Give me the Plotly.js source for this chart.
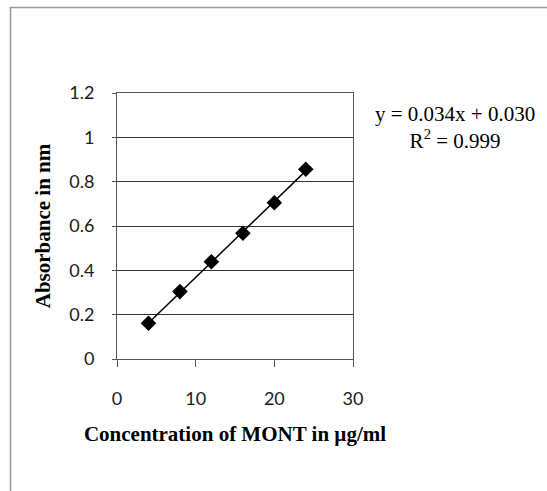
<!DOCTYPE html>
<html>
<head>
<meta charset="utf-8">
<script src="https://cdn.plot.ly/plotly-3.0.1.min.js"></script>
<style>html,body{margin:0;padding:0;background:#fff;}#chart{width:547px;height:491px;}</style>
</head>
<body>
<div id="chart"></div>
<script>
const concentration = [4, 8, 12, 16, 20, 24];
const absorbance = [0.161, 0.304, 0.439, 0.567, 0.705, 0.856];
const xTicks = [0, 10, 20, 30];
const yTicks = [0, 0.2, 0.4, 0.6, 0.8, 1, 1.2];
const yTickLabels = ['0', '0.2', '0.4', '0.6', '0.8', '1', '1.2'];
const equationText = 'y = 0.034x + 0.030<br>R<sup>2</sup> = 0.999';

// least-squares trendline from the data
const n = concentration.length;
const mx = concentration.reduce((a, b) => a + b, 0) / n;
const my = absorbance.reduce((a, b) => a + b, 0) / n;
let sxy = 0, sxx = 0;
for (let i = 0; i < n; i++) { sxy += (concentration[i] - mx) * (absorbance[i] - my); sxx += (concentration[i] - mx) ** 2; }
const slope = sxy / sxx, intercept = my - slope * mx;
const trendX = [concentration[0], concentration[n - 1]];
const trendY = trendX.map(x => slope * x + intercept);

const traces = [
  { x: trendX, y: trendY, mode: 'lines', line: { color: '#000', width: 1.5 }, hoverinfo: 'skip', showlegend: false },
  { x: concentration, y: absorbance, mode: 'markers', marker: { symbol: 'diamond', size: 12, color: '#000' }, showlegend: false }
];

const tickFont = { family: 'Lato, Open Sans, sans-serif', size: 18, color: '#1a1a1a' };
const titleFont = { family: 'Liberation Serif, Times New Roman, serif', size: 21, color: '#000', weight: 'bold' };

const layout = {
  width: 547, height: 491,
  margin: { l: 117, r: 194, t: 93, b: 132 },
  paper_bgcolor: '#fff', plot_bgcolor: '#fff',
  showlegend: false,
  xaxis: {
    range: [0, 30], tickvals: xTicks, ticktext: xTicks.map(String),
    showgrid: false, zeroline: false, automargin: false,
    showline: true, linecolor: '#555', linewidth: 1, mirror: true,
    ticks: 'outside', ticklen: 7, tickcolor: '#555', ticklabelstandoff: 16,
    tickfont: tickFont,
    title: { text: 'Concentration of MONT in µg/ml', font: titleFont, standoff: 18 }
  },
  yaxis: {
    range: [0, 1.2], tickvals: yTicks, ticktext: yTickLabels,
    showgrid: true, gridcolor: '#333', gridwidth: 1, zeroline: false, automargin: false,
    showline: true, linecolor: '#555', linewidth: 1, mirror: true,
    ticks: 'outside', ticklen: 4, tickcolor: '#555', ticklabelstandoff: 14,
    tickfont: tickFont,
    title: { text: 'Absorbance in nm', font: titleFont, standoff: 12 }
  },
  annotations: [{
    xref: 'paper', yref: 'paper', x: 1.432, y: 0.87, xanchor: 'center', yanchor: 'middle',
    text: equationText, showarrow: false, align: 'center',
    font: { family: 'Liberation Serif, Times New Roman, serif', size: 21, color: '#000' }
  }],
  shapes: [{
    type: 'rect', xref: 'paper', yref: 'paper',
    x0: (10.5 - 117) / 236, x1: (560 - 117) / 236,
    y0: (359 - 500) / 266, y1: (359 - 7.5) / 266,
    line: { color: '#999', width: 1.5 }, fillcolor: 'rgba(0,0,0,0)', layer: 'below'
  }]
};

Plotly.newPlot('chart', traces, layout, { staticPlot: true, displayModeBar: false });
</script>
</body>
</html>
